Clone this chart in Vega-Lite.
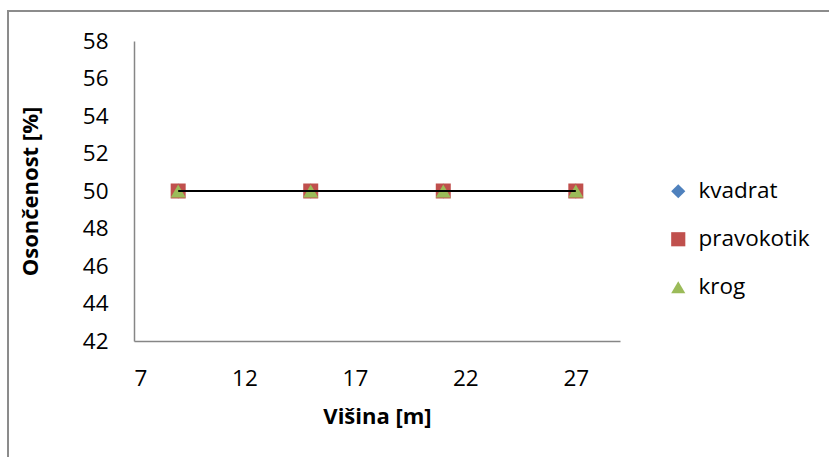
{
  "$schema": "https://vega.github.io/schema/vega-lite/v6.json",
  "width": 486,
  "height": 300,
  "autosize": "none",
  "padding": {"left": 134, "top": 41, "right": 209, "bottom": 116},
  "background": "white",
  "config": {
    "view": {"stroke": null},
    "font": "Open Sans",
    "axis": {
      "labelFont": "Open Sans",
      "labelFontSize": 22.5,
      "labelColor": "#000000",
      "labelOverlap": false,
      "titleFont": "Open Sans",
      "titleFontSize": 22,
      "titleFontWeight": "bold",
      "titleColor": "#000000",
      "domainColor": "#868686",
      "domainWidth": 1.5,
      "ticks": false,
      "grid": false
    },
    "legend": {
      "labelFont": "Open Sans",
      "labelFontSize": 22.5,
      "labelColor": "#000000"
    }
  },
  "data": {
    "values": [
      {"serija": "kvadrat", "visina": 9, "osoncenost": 50},
      {"serija": "kvadrat", "visina": 15, "osoncenost": 50},
      {"serija": "kvadrat", "visina": 21, "osoncenost": 50},
      {"serija": "kvadrat", "visina": 27, "osoncenost": 50},
      {"serija": "pravokotik", "visina": 9, "osoncenost": 50},
      {"serija": "pravokotik", "visina": 15, "osoncenost": 50},
      {"serija": "pravokotik", "visina": 21, "osoncenost": 50},
      {"serija": "pravokotik", "visina": 27, "osoncenost": 50},
      {"serija": "krog", "visina": 9, "osoncenost": 50},
      {"serija": "krog", "visina": 15, "osoncenost": 50},
      {"serija": "krog", "visina": 21, "osoncenost": 50},
      {"serija": "krog", "visina": 27, "osoncenost": 50}
    ]
  },
  "encoding": {
    "x": {
      "field": "visina",
      "type": "quantitative",
      "title": "Višina [m]",
      "scale": {"domain": [7, 29], "nice": false, "zero": false},
      "axis": {"values": [7, 12, 17, 22, 27], "tickCount": 5, "labelPadding": 26, "titlePadding": 17, "labelOverlap": false}
    },
    "y": {
      "field": "osoncenost",
      "type": "quantitative",
      "title": "Osončenost [%]",
      "scale": {"domain": [42, 58], "nice": false, "zero": false},
      "axis": {"values": [42, 44, 46, 48, 50, 52, 54, 56, 58], "tickCount": 9, "labelPadding": 26, "titlePadding": 40, "labelOverlap": false, "labelFlush": false}
    }
  },
  "layer": [
    {
      "mark": {"type": "point", "filled": true, "opacity": 1, "size": 225, "strokeWidth": 0},
      "encoding": {
        "color": {
          "field": "serija",
          "type": "nominal",
          "sort": ["kvadrat", "pravokotik", "krog"],
          "scale": {"domain": ["kvadrat", "pravokotik", "krog"], "range": ["#4F81BD", "#C0504D", "#9BBB59"]},
          "legend": {
            "title": null,
            "orient": "none",
            "legendX": 533,
            "legendY": 139,
            "symbolSize": 200,
            "symbolStrokeWidth": 0,
            "rowPadding": 25,
            "labelOffset": 9
          }
        },
        "shape": {
          "field": "serija",
          "type": "nominal",
          "sort": ["kvadrat", "pravokotik", "krog"],
          "scale": {"domain": ["kvadrat", "pravokotik", "krog"], "range": ["diamond", "square", "triangle-up"]}
        }
      }
    },
    {
      "transform": [{"filter": "datum.serija === 'kvadrat'"}],
      "mark": {"type": "line", "color": "#000000", "strokeWidth": 2},
      "encoding": {}
    },
    {
      "mark": {"type": "rect", "fill": null, "stroke": "#8c8c8c", "strokeWidth": 1.3, "clip": false},
      "encoding": {
        "x": {
          "datum": 1.3,
          "type": "quantitative",
          "title": "Višina [m]",
          "scale": {"domain": [7, 29], "nice": false, "zero": false},
          "axis": {"values": [7, 12, 17, 22, 27], "tickCount": 5, "labelPadding": 26, "titlePadding": 17, "labelOverlap": false}
        },
        "x2": {"datum": 40},
        "y": {
          "datum": 59.6,
          "type": "quantitative",
          "title": "Osončenost [%]",
          "scale": {"domain": [42, 58], "nice": false, "zero": false},
          "axis": {"values": [42, 44, 46, 48, 50, 52, 54, 56, 58], "tickCount": 9, "labelPadding": 26, "titlePadding": 40, "labelOverlap": false, "labelFlush": false}
        },
        "y2": {"datum": 30}
      }
    }
  ]
}
